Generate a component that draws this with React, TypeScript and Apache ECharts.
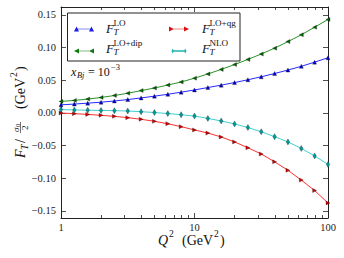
import React, { useEffect, useRef } from "react";
import * as echarts from "echarts";

// Q^2 sample points (GeV^2)
const Q2 = [1, 1.259, 1.585, 1.995, 2.512, 3.162, 3.981, 5.012, 6.31, 7.943, 10, 12.59, 15.85, 19.95, 25.12, 31.62, 39.81, 50.12, 63.1, 79.43, 100];

// F_T / (sigma0/2) values (GeV^2)
const F_LO = [0.0122, 0.0134, 0.0148, 0.0163, 0.0181, 0.0203, 0.0228, 0.0255, 0.0284, 0.0316, 0.035, 0.0387, 0.0424, 0.0463, 0.0506, 0.0552, 0.0602, 0.0655, 0.0712, 0.0776, 0.0843];
const F_LO_DIP = [0.0175, 0.019, 0.021, 0.0235, 0.0265, 0.03, 0.034, 0.038, 0.0425, 0.0472, 0.053, 0.0595, 0.0665, 0.0738, 0.0818, 0.09, 0.099, 0.109, 0.1195, 0.131, 0.143];
const F_LO_QG = [-0.0003, -0.0013, -0.0024, -0.0038, -0.0054, -0.0074, -0.0099, -0.013, -0.0167, -0.0212, -0.0262, -0.031, -0.037, -0.0445, -0.0535, -0.063, -0.075, -0.088, -0.103, -0.119, -0.138];
const F_NLO = [0.005, 0.0044, 0.004, 0.0037, 0.0033, 0.0028, 0.0017, 0.0005, -0.0011, -0.0029, -0.005, -0.0085, -0.0125, -0.017, -0.0225, -0.029, -0.0365, -0.0445, -0.0545, -0.066, -0.079];

const X_MAJOR = [1, 10, 100];
const X_MINOR = [2, 3, 4, 5, 6, 7, 8, 9, 20, 30, 40, 50, 60, 70, 80, 90];
const Y_TICKS = [-0.15, -0.1, -0.05, 0, 0.05, 0.1, 0.15];

const FONT = "'Liberation Serif', 'DejaVu Serif', serif";
const AX = "#222";

// legend icons: line with a marker at each end (matplotlib numpoints=2)
const ICON_UP = "path://M0,10L5,0L10,10Z M5,4.3L35,4.3L35,5.7L5,5.7Z M30,10L35,0L40,10Z";
const ICON_LEFT = "path://M0,5L10,0L10,10Z M5,4.3L35,4.3L35,5.7L5,5.7Z M30,5L40,0L40,10Z";
const ICON_RIGHT = "path://M0,0L10,5L0,10Z M5,4.3L35,4.3L35,5.7L5,5.7Z M30,0L40,5L30,10Z";
const ICON_DIAMOND = "path://M2,5L5,-1L8,5L5,11Z M5,3.4L35,3.4L35,6.6L5,6.6Z M32,5L35,-1L38,5L35,11Z";

function pairs(v: number[]) {
  return Q2.map((q, i) => [q, v[i]]);
}

function mathText(x: number, y: number, base: string, sub: string, sup: string, size: number, bw: number) {
  const els: any[] = [];
  els.push({ type: "text", x, y, z: 10, style: { text: base, font: `italic ${size}px ${FONT}`, fill: "#111", textVerticalAlign: "middle" } });
  if (sub) els.push({ type: "text", x: x + bw, y: y + size * 0.32, z: 10, style: { text: sub, font: `italic ${size * 0.7}px ${FONT}`, fill: "#111", textVerticalAlign: "middle" } });
  if (sup) els.push({ type: "text", x: x + bw, y: y - size * 0.42, z: 10, style: { text: sup, font: `${size * 0.7}px ${FONT}`, fill: "#111", textVerticalAlign: "middle" } });
  return els;
}

export default function App() {
  const ref = useRef<HTMLDivElement>(null);
  useEffect(() => {
    if (!ref.current) return;
    const chart = echarts.init(ref.current, null, { renderer: "svg" });
    const grid = { left: 61, top: 7, right: 16, bottom: 40 };
    const xBase = (pos: string, vals: number[], len: number, labels: boolean, line: boolean) => ({
      type: "log",
      logBase: 10,
      min: 1,
      max: 100,
      position: pos,
      axisLine: { show: line, onZero: false, lineStyle: { color: AX, width: 1 } },
      axisTick: { show: true, inside: true, length: len, customValues: vals, lineStyle: { color: AX, width: 0.8 } },
      axisLabel: labels
        ? { show: true, customValues: X_MAJOR, margin: 4, fontFamily: FONT, fontSize: 10.5, color: "#222" }
        : { show: false },
      splitLine: { show: false },
      minorTick: { show: false },
    });
    const yBase = (pos: string, labels: boolean) => ({
      type: "value",
      min: -0.161,
      max: 0.162,
      position: pos,
      axisLine: { show: true, onZero: false, lineStyle: { color: AX, width: 1 } },
      axisTick: { show: true, inside: true, length: 5, customValues: Y_TICKS, lineStyle: { color: AX, width: 0.8 } },
      axisLabel: labels
        ? {
            show: true,
            customValues: Y_TICKS,
            margin: 5,
            fontFamily: FONT,
            fontSize: 10.5,
            color: "#222",
            formatter: (v: number) => (v < -1e-9 ? "\u2212" : "") + Math.abs(v).toFixed(2),
          }
        : { show: false },
      splitLine: { show: false },
    });
    const mk = (name: string, data: number[], symbol: string, rot: number, size: any, line: string, fill: string) => ({
      name,
      type: "line",
      xAxisIndex: 0,
      yAxisIndex: 0,
      data: pairs(data),
      symbol,
      symbolSize: size,
      symbolRotate: rot,
      showSymbol: true,
      lineStyle: { color: line, width: 1 },
      itemStyle: { color: fill, borderColor: "#111", borderWidth: 0.3 },
      z: 2,
    });
    const legendItem = (name: string, icon: string, color: string, left: number, top: number) => ({
      data: [{ name, icon, itemStyle: { color, borderColor: color, borderWidth: 0 } }],
      left,
      top,
      padding: 0,
      itemWidth: 20,
      itemHeight: 5,
      itemGap: 0,
      symbolRotate: 0,
      selectedMode: false,
      formatter: () => "",
      z: 6,
    });
    const graphic: any[] = [
      { type: "rect", shape: { x: 67.5, y: 13, width: 172.5, height: 48 }, z: 5, style: { fill: "#fff", stroke: AX, lineWidth: 1 } },
      ...mathText(106, 28, "F", "T", "LO", 13, 7.5),
      ...mathText(202, 28, "F", "T", "LO+qg", 13, 7.5),
      ...mathText(106, 48, "F", "T", "LO+dip", 13, 7.5),
      ...mathText(202, 48, "F", "T", "NLO", 13, 7.5),
      ...mathText(71, 72, "x", "Bj", "", 12, 6),
      { type: "text", x: 88, y: 72, z: 10, style: { text: "= 10", font: `12px ${FONT}`, fill: "#111", textVerticalAlign: "middle" } },
      { type: "text", x: 111, y: 67, z: 10, style: { text: "\u22123", font: `8.5px ${FONT}`, fill: "#111", textVerticalAlign: "middle" } },
      // x-axis title
      { type: "text", x: 158, y: 240, z: 10, style: { text: "Q", font: `italic 14px ${FONT}`, fill: "#111", textVerticalAlign: "middle" } },
      { type: "text", x: 169, y: 234, z: 10, style: { text: "2", font: `9.5px ${FONT}`, fill: "#111", textVerticalAlign: "middle" } },
      { type: "text", x: 182, y: 240, z: 10, style: { text: "(GeV", font: `14px ${FONT}`, fill: "#111", textVerticalAlign: "middle" } },
      { type: "text", x: 214, y: 234, z: 10, style: { text: "2", font: `9.5px ${FONT}`, fill: "#111", textVerticalAlign: "middle" } },
      { type: "text", x: 220, y: 240, z: 10, style: { text: ")", font: `14px ${FONT}`, fill: "#111", textVerticalAlign: "middle" } },
      // y-axis title (rotated group)
      {
        type: "group",
        x: 20,
        y: 111,
        rotation: Math.PI / 2,
        z: 10,
        children: [
          { type: "text", x: -47, y: 0, style: { text: "F", font: `italic 14px ${FONT}`, fill: "#111", textVerticalAlign: "middle" } },
          { type: "text", x: -39, y: 4.5, style: { text: "T", font: `italic 10px ${FONT}`, fill: "#111", textVerticalAlign: "middle" } },
          { type: "text", x: -32, y: 0, style: { text: "/", font: `14px ${FONT}`, fill: "#111", textVerticalAlign: "middle" } },
          { type: "text", x: -21, y: -4.5, style: { text: "\u03c3", font: `italic 9px ${FONT}`, fill: "#111", textVerticalAlign: "middle" } },
          { type: "text", x: -16, y: -3, style: { text: "0", font: `6.5px ${FONT}`, fill: "#111", textVerticalAlign: "middle" } },
          { type: "line", shape: { x1: -22, y1: 0.5, x2: -11, y2: 0.5 }, style: { stroke: "#111", lineWidth: 0.6 } },
          { type: "text", x: -19, y: 5, style: { text: "2", font: `9px ${FONT}`, fill: "#111", textVerticalAlign: "middle" } },
          { type: "text", x: 2, y: 0, style: { text: "(GeV", font: `14px ${FONT}`, fill: "#111", textVerticalAlign: "middle" } },
          { type: "text", x: 34, y: -6, style: { text: "2", font: `9.5px ${FONT}`, fill: "#111", textVerticalAlign: "middle" } },
          { type: "text", x: 40, y: 0, style: { text: ")", font: `14px ${FONT}`, fill: "#111", textVerticalAlign: "middle" } },
        ],
      },
    ];
    chart.setOption({
      animation: false,
      backgroundColor: "#fff",
      grid,
      xAxis: [
        xBase("bottom", X_MAJOR, 5, true, true),
        xBase("bottom", X_MINOR, 3, false, false),
        xBase("top", X_MAJOR, 5, false, true),
        xBase("top", X_MINOR, 3, false, false),
      ],
      yAxis: [yBase("left", true), yBase("right", false)],
      legend: [
        legendItem("LO", ICON_UP, "#1a1ae6", 74, 26.5),
        legendItem("LO+qg", ICON_RIGHT, "#dd1010", 169, 26.5),
        legendItem("LO+dip", ICON_LEFT, "#107a10", 74, 48.5),
        legendItem("NLO", ICON_DIAMOND, "#20b4b4", 169, 48.5),
      ],
      series: [
        mk("LO", F_LO, "triangle", 0, 4, "#2a2aff", "#0000cc"),
        mk("LO+dip", F_LO_DIP, "triangle", 90, 4, "#2a922a", "#006400"),
        mk("LO+qg", F_LO_QG, "triangle", -90, 4, "#ff3030", "#cc0000"),
        mk("NLO", F_NLO, "diamond", 0, [3.5, 6], "#3fd0d0", "#009a9a"),
      ],
      graphic,
    });
    return () => chart.dispose();
  }, []);
  return <div ref={ref} style={{ position: "fixed", left: 0, top: 0, width: 344, height: 258 }} />;
}
